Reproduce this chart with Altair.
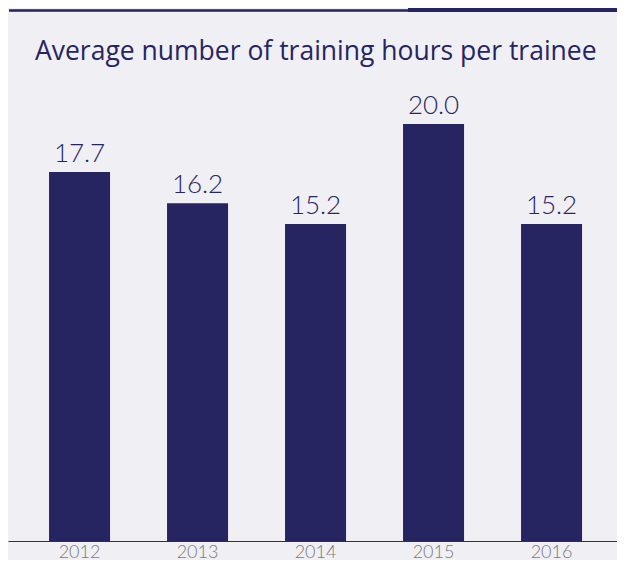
import altair as alt
import pandas as pd

years = ["2012", "2013", "2014", "2015", "2016"]
hours = [17.7, 16.2, 15.2, 20.0, 15.2]
labels = ["17.7", "16.2", "15.2", "20.0", "15.2"]

df = pd.DataFrame({"year": years, "hours": hours, "label": labels})

NAVY = "#262562"
BG = "#f0eff4"

base = alt.Chart(df)

x = alt.X("year:N", sort=years, title=None,
          scale=alt.Scale(paddingInner=0.483, paddingOuter=0.322, align=0.54),
          axis=alt.Axis(labelAngle=0, labelFontSize=18, labelColor="#7a7a7a",
                        labelFont="Lato", labelFontWeight=300, labelPadding=2,
                        ticks=False, domainColor="#333333", domainWidth=1.2))
y = alt.Y("hours:Q", title=None,
          scale=alt.Scale(domain=[0, 22.11], nice=False, zero=True),
          axis=None)

bars = base.mark_bar(color=NAVY).encode(x=x, y=y)
text = base.mark_text(baseline="alphabetic", dy=-10, fontSize=26, font="Lato",
                      fontWeight=300, color=NAVY).encode(x=x, y=y, text="label:N")

thin = base.mark_rule(color=NAVY, strokeWidth=1.5).encode(
    x=alt.value(1), x2=alt.value(609), y=alt.value(-69.5))
thick = base.mark_rule(color=NAVY, strokeWidth=4).encode(
    x=alt.value(400), x2=alt.value(609), y=alt.value(-70))

chart = alt.layer(bars, text, thin, thick).properties(
    width=609, height=461,
    autosize=alt.AutoSizeParams(type="none"),
    padding={"left": 0, "top": 72, "right": 0, "bottom": 19},
    title=alt.TitleParams("Average number of training hours per trainee",
                          anchor="start", frame="group", dx=27, dy=69, offset=12,
                          fontSize=26.5, font="Open Sans", fontWeight="normal",
                          color=NAVY),
).configure(background=BG).configure_view(stroke=None)

chart.save("out.html", embed_options={"renderer": "svg", "actions": False})
